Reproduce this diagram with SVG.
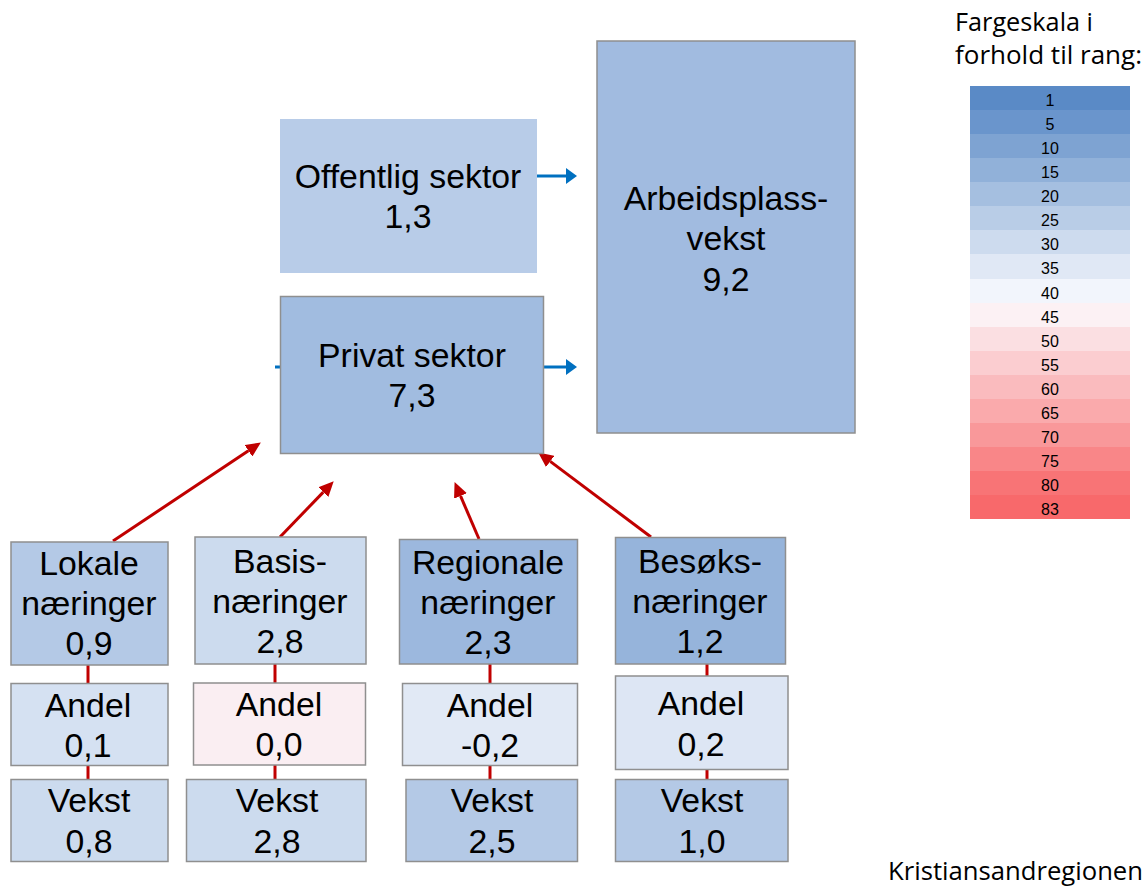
<svg xmlns="http://www.w3.org/2000/svg" width="1147" height="894" viewBox="0 0 1147 894">
<style>
  .box { stroke: #8F8F8F; stroke-width: 1.5; }
  .t { font-family: "Liberation Sans", Arial, sans-serif; font-size: 33.8px; fill: #000; text-anchor: middle; }
  .s { font-family: "Liberation Sans", Arial, sans-serif; font-size: 16px; fill: #000; text-anchor: middle; }
  .c { font-family: "Open Sans", "Noto Sans", sans-serif; font-size: 25px; fill: #000; }
  .red { stroke: #C00000; stroke-width: 3; fill: none; }
  .blue { stroke: #0070C0; stroke-width: 3; fill: none; }
</style>
<defs>
  <marker id="ab" markerUnits="userSpaceOnUse" viewBox="0 -8 11 16" markerWidth="11" markerHeight="16" refX="0" refY="0" orient="auto">
    <path d="M0,-8 L11,0 L0,8 z" fill="#0070C0"/>
  </marker>
  <marker id="ar" markerUnits="userSpaceOnUse" viewBox="0 -7 15 14" markerWidth="15" markerHeight="14" refX="0" refY="0" orient="auto">
    <path d="M0,-7 L15,0 L0,7 z" fill="#C00000"/>
  </marker>
</defs>
<rect width="1147" height="894" fill="#FFFFFF"/>

<g id="connectors">
  <line class="blue" x1="537" y1="176" x2="566" y2="176" marker-end="url(#ab)"/>
  <line class="blue" x1="544" y1="367" x2="566" y2="367" marker-end="url(#ab)"/>
  <line class="blue" x1="275" y1="367" x2="281" y2="367"/>
  <line class="red" x1="113" y1="541" x2="248.4" y2="450.8" marker-end="url(#ar)"/>
  <line class="red" x1="280" y1="537" x2="323.3" y2="492.1" marker-end="url(#ar)"/>
  <line class="red" x1="479" y1="539" x2="460.5" y2="495.9" marker-end="url(#ar)"/>
  <line class="red" x1="651" y1="537" x2="550.2" y2="461.4" marker-end="url(#ar)"/>
  <line class="red" x1="88" y1="664" x2="88" y2="684"/>
  <line class="red" x1="88" y1="765" x2="88" y2="780"/>
  <line class="red" x1="275" y1="663" x2="275" y2="683"/>
  <line class="red" x1="275" y1="764" x2="275" y2="780"/>
  <line class="red" x1="490" y1="663" x2="490" y2="684"/>
  <line class="red" x1="490" y1="765" x2="490" y2="780"/>
  <line class="red" x1="707" y1="663" x2="707" y2="677"/>
  <line class="red" x1="707" y1="769" x2="707" y2="780"/>
</g>

<g id="offentlig">
  <rect x="280" y="119" width="257" height="154" fill="#B8CCE8"/>
  <text class="t" x="408" y="188">Offentlig sektor</text>
  <text class="t" x="408" y="228">1,3</text>
</g>
<g id="privat">
  <rect class="box" x="280.5" y="296.5" width="263" height="157" fill="#A1BCE0"/>
  <text class="t" x="412" y="367">Privat sektor</text>
  <text class="t" x="412" y="407">7,3</text>
</g>
<g id="arbeidsplass">
  <rect class="box" x="597" y="41" width="258" height="392" fill="#A1BBE0"/>
  <text class="t" x="726" y="210">Arbeidsplass-</text>
  <text class="t" x="726" y="250">vekst</text>
  <text class="t" x="726" y="291">9,2</text>
</g>

<g id="lokale">
  <rect class="box" x="11" y="542" width="157" height="123" fill="#B4C9E6"/>
  <text class="t" x="89" y="575">Lokale</text>
  <text class="t" x="89" y="615">næringer</text>
  <text class="t" x="89" y="655">0,9</text>
</g>
<g id="basis">
  <rect class="box" x="195" y="537" width="171" height="127" fill="#CCDBEE"/>
  <text class="t" x="280" y="573">Basis-</text>
  <text class="t" x="280" y="613">næringer</text>
  <text class="t" x="280" y="653">2,8</text>
</g>
<g id="regionale">
  <rect class="box" x="399.5" y="539.5" width="178" height="124.5" fill="#9CB8DE"/>
  <text class="t" x="488" y="574">Regionale</text>
  <text class="t" x="488" y="614">næringer</text>
  <text class="t" x="488" y="654">2,3</text>
</g>
<g id="besoks">
  <rect class="box" x="615.5" y="537.5" width="170" height="126.5" fill="#96B4DB"/>
  <text class="t" x="700" y="573">Besøks-</text>
  <text class="t" x="700" y="613">næringer</text>
  <text class="t" x="700" y="653">1,2</text>
</g>

<g id="andel-lokale">
  <rect class="box" x="11" y="683.5" width="157" height="82" fill="#D5E1F2"/>
  <text class="t" x="88" y="717">Andel</text>
  <text class="t" x="88" y="757">0,1</text>
</g>
<g id="andel-basis">
  <rect class="box" x="193.5" y="683" width="172" height="82" fill="#FAEEF2"/>
  <text class="t" x="279" y="716">Andel</text>
  <text class="t" x="279" y="756">0,0</text>
</g>
<g id="andel-regionale">
  <rect class="box" x="402.5" y="683.5" width="175" height="82" fill="#E1E9F5"/>
  <text class="t" x="490" y="717">Andel</text>
  <text class="t" x="490" y="757">-0,2</text>
</g>
<g id="andel-besoks">
  <rect class="box" x="615.5" y="676" width="172.5" height="93.5" fill="#DDE6F4"/>
  <text class="t" x="701" y="715">Andel</text>
  <text class="t" x="701" y="756">0,2</text>
</g>

<g id="vekst-lokale">
  <rect class="box" x="11" y="779.5" width="157" height="82" fill="#CCDBEE"/>
  <text class="t" x="89" y="812">Vekst</text>
  <text class="t" x="89" y="853">0,8</text>
</g>
<g id="vekst-basis">
  <rect class="box" x="186.5" y="779.5" width="179.5" height="82" fill="#CCDBEE"/>
  <text class="t" x="277" y="812">Vekst</text>
  <text class="t" x="277" y="853">2,8</text>
</g>
<g id="vekst-regionale">
  <rect class="box" x="406" y="779.5" width="171.5" height="82" fill="#B4C9E6"/>
  <text class="t" x="492" y="812">Vekst</text>
  <text class="t" x="492" y="853">2,5</text>
</g>
<g id="vekst-besoks">
  <rect class="box" x="615.5" y="779.5" width="172.5" height="82" fill="#B4C9E6"/>
  <text class="t" x="702" y="812">Vekst</text>
  <text class="t" x="702" y="853">1,0</text>
</g>

<g id="legend">
  <text class="c" x="955" y="31" textLength="138" lengthAdjust="spacingAndGlyphs">Fargeskala i</text>
  <text class="c" x="955" y="64" textLength="187" lengthAdjust="spacingAndGlyphs">forhold til rang:</text>
  <rect x="970" y="86" width="160" height="24" fill="#5A8AC6"/>
  <rect x="970" y="110" width="160" height="24" fill="#6A95CC"/>
  <rect x="970" y="134" width="160" height="24" fill="#7EA3D2"/>
  <rect x="970" y="158" width="160" height="24" fill="#91B1D9"/>
  <rect x="970" y="182" width="160" height="24" fill="#A5BFE0"/>
  <rect x="970" y="206" width="160" height="24" fill="#B9CDE7"/>
  <rect x="970" y="230" width="160" height="24" fill="#CDDBEE"/>
  <rect x="970" y="254" width="160" height="25" fill="#E0E8F5"/>
  <rect x="970" y="279" width="160" height="24" fill="#F2F5FC"/>
  <rect x="970" y="303" width="160" height="24" fill="#FCF1F4"/>
  <rect x="970" y="327" width="160" height="24" fill="#FBDFE2"/>
  <rect x="970" y="351" width="160" height="24" fill="#FBCDD0"/>
  <rect x="970" y="375" width="160" height="24" fill="#FABBBE"/>
  <rect x="970" y="399" width="160" height="24" fill="#FAAAAC"/>
  <rect x="970" y="423" width="160" height="24" fill="#F9989A"/>
  <rect x="970" y="447" width="160" height="24" fill="#F98688"/>
  <rect x="970" y="471" width="160" height="24" fill="#F87476"/>
  <rect x="970" y="495" width="160" height="24" fill="#F8696B"/>
  <text class="s" x="1050" y="106">1</text>
  <text class="s" x="1050" y="130">5</text>
  <text class="s" x="1050" y="154">10</text>
  <text class="s" x="1050" y="178">15</text>
  <text class="s" x="1050" y="202">20</text>
  <text class="s" x="1050" y="226">25</text>
  <text class="s" x="1050" y="250">30</text>
  <text class="s" x="1050" y="274">35</text>
  <text class="s" x="1050" y="299">40</text>
  <text class="s" x="1050" y="323">45</text>
  <text class="s" x="1050" y="347">50</text>
  <text class="s" x="1050" y="371">55</text>
  <text class="s" x="1050" y="395">60</text>
  <text class="s" x="1050" y="419">65</text>
  <text class="s" x="1050" y="443">70</text>
  <text class="s" x="1050" y="467">75</text>
  <text class="s" x="1050" y="491">80</text>
  <text class="s" x="1050" y="515">83</text>
</g>

<text class="c" x="888" y="880" font-size="23" textLength="255" lengthAdjust="spacingAndGlyphs">Kristiansandregionen</text>
</svg>
